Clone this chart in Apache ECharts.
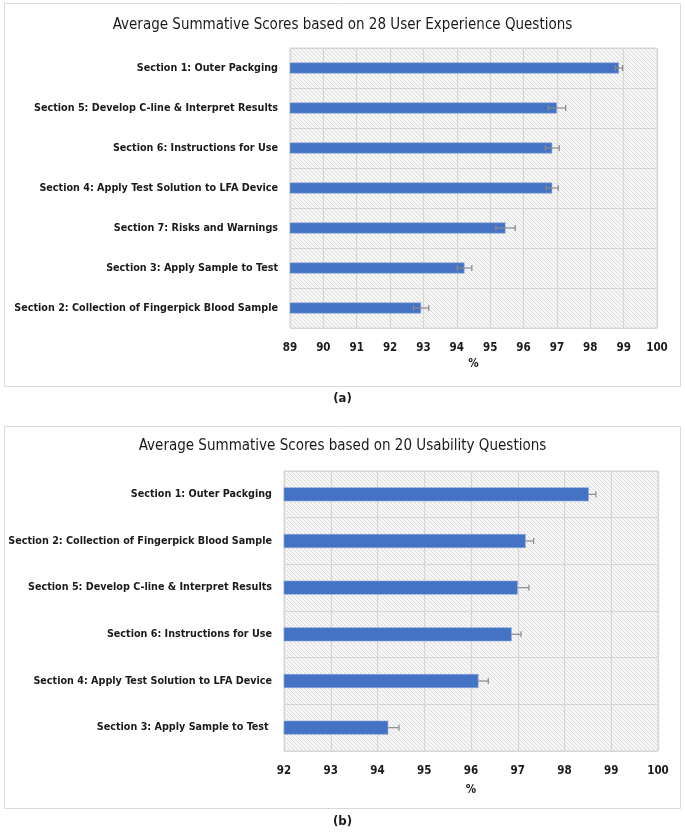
<!DOCTYPE html>
<html>
<head>
<meta charset="utf-8">
<script src="https://cdn.jsdelivr.net/npm/echarts@6/dist/echarts.min.js"></script>
<style>
html,body{margin:0;padding:0;background:#fff;}
#main{width:685px;height:834px;}
</style>
</head>
<body>
<div id="main"></div>
<script>
// ---- Data (a) ----
var titleA = 'Average Summative Scores based on 28 User Experience Questions';
var catsA = ['Section 1: Outer Packging','Section 5: Develop C-line & Interpret Results','Section 6: Instructions for Use','Section 4: Apply Test Solution to LFA Device','Section 7: Risks and Warnings','Section 3: Apply Sample to Test','Section 2: Collection of Fingerpick Blood Sample'];
var valsA = [98.86, 97.0, 96.86, 96.86, 95.46, 94.23, 92.93];
var errA = [0.11, 0.26, 0.21, 0.18, 0.29, 0.22, 0.23];
var xMinA = 89, xMaxA = 100;
// ---- Data (b) ----
var titleB = 'Average Summative Scores based on 20 Usability Questions';
var catsB = ['Section 1: Outer Packging','Section 2: Collection of Fingerpick Blood Sample','Section 5: Develop C-line & Interpret Results','Section 6: Instructions for Use','Section 4: Apply Test Solution to LFA Device','Section 3: Apply Sample to Test '];
var valsB = [98.52, 97.17, 97.0, 96.87, 96.16, 94.23];
var errB = [0.15, 0.17, 0.24, 0.20, 0.21, 0.23];
var xMinB = 92, xMaxB = 100;
var axisName = '%';
var captions = ['(a)', '(b)'];

var FONT = '"Liberation Sans Narrow","DejaVu Sans Condensed","Liberation Sans",sans-serif';

function hatch() {
  var c = document.createElement('canvas');
  c.width = 4; c.height = 4;
  var g = c.getContext('2d');
  g.fillStyle = '#f6f6f6';
  g.fillRect(0, 0, 4, 4);
  g.strokeStyle = '#dcdcdc';
  g.lineWidth = 1;
  g.beginPath();
  g.moveTo(-1, -1); g.lineTo(5, 5);
  g.moveTo(-1, 3); g.lineTo(1, 5);
  g.moveTo(3, -1); g.lineTo(5, 1);
  g.stroke();
  return c;
}
var pattern = {image: hatch(), repeat: 'repeat'};

function errData(vals, errs) {
  return vals.map(function (v, i) { return [i, v - errs[i], v + errs[i]]; });
}
function errRender(params, api) {
  var i = api.value(0);
  var p1 = api.coord([api.value(1), i]);
  var p2 = api.coord([api.value(2), i]);
  var h = 3;
  var st = {stroke: '#8a8a8a', lineWidth: 1.2};
  return {type: 'group', children: [
    {type: 'line', shape: {x1: p1[0], y1: p1[1], x2: p2[0], y2: p2[1]}, style: st},
    {type: 'line', shape: {x1: p1[0], y1: p1[1] - h, x2: p1[0], y2: p1[1] + h}, style: st},
    {type: 'line', shape: {x1: p2[0], y1: p2[1] - h, x2: p2[0], y2: p2[1] + h}, style: st}
  ]};
}

var labelStyle = {color: '#1a1a1a', fontFamily: FONT, fontWeight: 'bold', fontSize: 10.7};
var tickStyle = {color: '#1a1a1a', fontFamily: FONT, fontWeight: 'bold', fontSize: 11.5};

var chart = echarts.init(document.getElementById('main'), null, {renderer: 'canvas'});
chart.setOption({
  animation: false,
  backgroundColor: '#fff',
  title: [
    {text: titleA, left: 'center', top: 13, textStyle: {fontFamily: FONT, fontWeight: 'normal', fontSize: 15, color: '#1a1a1a'}},
    {text: titleB, left: 'center', top: 434, textStyle: {fontFamily: FONT, fontWeight: 'normal', fontSize: 15, color: '#1a1a1a'}}
  ],
  graphic: [
    {type: 'rect', shape: {x: 4.5, y: 3.5, width: 676, height: 383}, style: {fill: 'none', stroke: '#d9d9d9', lineWidth: 1}, silent: true},
    {type: 'rect', shape: {x: 4.5, y: 426.5, width: 676, height: 382}, style: {fill: 'none', stroke: '#d9d9d9', lineWidth: 1}, silent: true},
    {type: 'text', left: 'center', top: 392, style: {text: captions[0], font: 'bold 13px ' + FONT, fill: '#1a1a1a'}},
    {type: 'text', left: 'center', top: 815, style: {text: captions[1], font: 'bold 13px ' + FONT, fill: '#1a1a1a'}}
  ],
  grid: [
    {left: 290, right: 28, top: 48, height: 280, outerBoundsMode: 'none', containLabel: false, show: true, backgroundColor: pattern, borderColor: '#d9d9d9', borderWidth: 1},
    {left: 284, right: 27, top: 471, height: 280, outerBoundsMode: 'none', containLabel: false, show: true, backgroundColor: pattern, borderColor: '#d9d9d9', borderWidth: 1}
  ],
  xAxis: [
    {type: 'value', gridIndex: 0, min: xMinA, max: xMaxA, interval: 1, name: axisName, nameLocation: 'middle', nameGap: 30,
      nameTextStyle: tickStyle, axisLabel: Object.assign({margin: 14}, tickStyle),
      axisLine: {show: false}, axisTick: {show: false}, splitLine: {lineStyle: {color: '#d6d6d6', width: 1.2}}},
    {type: 'value', gridIndex: 1, min: xMinB, max: xMaxB, interval: 1, name: axisName, nameLocation: 'middle', nameGap: 33,
      nameTextStyle: tickStyle, axisLabel: Object.assign({margin: 14}, tickStyle),
      axisLine: {show: false}, axisTick: {show: false}, splitLine: {lineStyle: {color: '#d6d6d6', width: 1.2}}}
  ],
  yAxis: [
    {type: 'category', gridIndex: 0, data: catsA, inverse: true, axisLabel: Object.assign({margin: 12}, labelStyle),
      axisLine: {lineStyle: {color: '#d6d6d6'}}, axisTick: {show: false}, splitLine: {show: true, lineStyle: {color: '#d6d6d6', width: 1.2}}},
    {type: 'category', gridIndex: 1, data: catsB, inverse: true, axisLabel: Object.assign({margin: 12}, labelStyle),
      axisLine: {lineStyle: {color: '#d6d6d6'}}, axisTick: {show: false}, splitLine: {show: true, lineStyle: {color: '#d6d6d6', width: 1.2}}}
  ],
  series: [
    {type: 'bar', xAxisIndex: 0, yAxisIndex: 0, data: valsA, barWidth: 11, z: 2,
      itemStyle: {color: '#4472C4', borderColor: '#8fa9de', borderWidth: 0.6}},
    {type: 'custom', xAxisIndex: 0, yAxisIndex: 0, data: errData(valsA, errA), renderItem: errRender, z: 3,
      encode: {x: [1, 2], y: 0}},
    {type: 'bar', xAxisIndex: 1, yAxisIndex: 1, data: valsB, barWidth: 14, z: 3,
      itemStyle: {color: '#4472C4', borderColor: '#8fa9de', borderWidth: 0.6}},
    {type: 'custom', xAxisIndex: 1, yAxisIndex: 1, data: errData(valsB, errB), renderItem: errRender, z: 2,
      encode: {x: [1, 2], y: 0}}
  ]
});
</script>
</body>
</html>
